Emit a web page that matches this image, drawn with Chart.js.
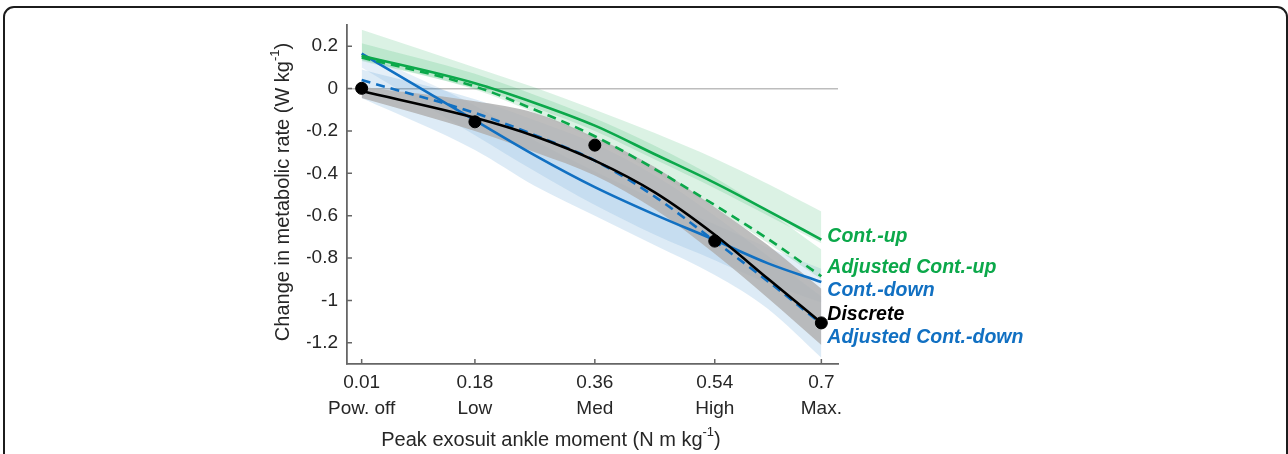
<!DOCTYPE html>
<html>
<head>
<meta charset="utf-8">
<script src="https://cdn.jsdelivr.net/npm/chart.js@4.4.1/dist/chart.umd.min.js"></script>
<style>
  html, body { margin: 0; padding: 0; background: #fff; }
  #wrap { position: relative; width: 1288px; height: 454px; overflow: hidden; }
  #frame { position: absolute; left: 3px; top: 6px; width: 1285px; height: 520px; border: 2px solid #1c1c1c; border-radius: 11px; box-sizing: border-box; pointer-events: none; }
  canvas { position: absolute; left: 0; top: 0; }
</style>
</head>
<body>
<div id="wrap">
  <canvas id="chart" width="1288" height="454"></canvas>
  <div id="frame"></div>
</div>
<script>
// tick values and category names on the x axis
const xTickValues = [0.01, 0.18, 0.36, 0.54, 0.7];
const xTickNames = ['Pow. off', 'Low', 'Med', 'High', 'Max.'];
const yTickValues = [0.2, 0, -0.2, -0.4, -0.6, -0.8, -1, -1.2];

// peak exosuit ankle moment where the fitted curves were read
const moment = [0.01, 0.18, 0.27, 0.36, 0.45, 0.54, 0.62, 0.7];

// fitted curves (W/kg)
const contUp      = [0.155, 0.025, -0.068, -0.175, -0.31, -0.445, -0.577, -0.713];
const adjContUp   = [0.147, 0.01, -0.10, -0.225, -0.38, -0.55, -0.71, -0.886];
const contDown    = [0.165, -0.15, -0.315, -0.465, -0.595, -0.715, -0.825, -0.913];
const adjContDown = [0.04, -0.115, -0.22, -0.34, -0.51, -0.72, -0.91, -1.11];
const discreteFit = [-0.012, -0.138, -0.225, -0.34, -0.49, -0.69, -0.898, -1.105];

// confidence bands (upper / lower)
const contUpHi      = [0.277, 0.10, 0.005, -0.10, -0.21, -0.33, -0.45, -0.58];
const contUpLo      = [0.135, 0.0, -0.09, -0.20, -0.335, -0.47, -0.60, -0.73];
const adjContUpHi   = [0.214, 0.07, -0.03, -0.14, -0.27, -0.42, -0.58, -0.76];
const adjContUpLo   = [0.13, -0.005, -0.115, -0.24, -0.395, -0.565, -0.73, -0.90];
const contDownHi    = [0.17, -0.08, -0.245, -0.39, -0.52, -0.64, -0.75, -0.85];
const contDownLo    = [0.10, -0.22, -0.39, -0.55, -0.69, -0.81, -0.92, -1.01];
const adjContDownHi = [0.09, -0.05, -0.15, -0.26, -0.41, -0.60, -0.79, -0.98];
const adjContDownLo = [-0.045, -0.29, -0.46, -0.60, -0.74, -0.88, -1.04, -1.27];
const discreteHi    = [0.008, -0.06, -0.115, -0.23, -0.37, -0.56, -0.74, -0.945];
const discreteLo    = [-0.045, -0.20, -0.30, -0.41, -0.57, -0.78, -0.99, -1.21];

// measured discrete conditions
const discreteMoment = [0.01, 0.18, 0.36, 0.54, 0.7];
const discreteMeans  = [0.001, -0.157, -0.267, -0.72, -1.106];

// text labels at the right end of the curves
const seriesLabels = ['Cont.-up', 'Adjusted Cont.-up', 'Cont.-down', 'Discrete', 'Adjusted Cont.-down'];
const seriesLabelAt = [-0.70, -0.843, -0.956, -1.068, -1.177];

const GREEN = '#0ba84a';
const BLUE = '#1170c2';
const AXIS = '#666666';
const TEXT = '#262626';
const FONT = '"Liberation Sans", Arial, Helvetica, sans-serif';
const labelColors = [GREEN, GREEN, BLUE, '#000', BLUE];

const pts = ys => moment.map((x, i) => ({ x, y: ys[i] }));

function band(hi, lo, color, order) {
  return [
    { data: pts(hi), fill: '+1', backgroundColor: color, borderWidth: 0, pointRadius: 0, order },
    { data: pts(lo), fill: false, borderWidth: 0, pointRadius: 0, order },
  ];
}

function curve(ys, color, dash, order) {
  return { data: pts(ys), borderColor: color, borderWidth: 2.6, borderDash: dash, pointRadius: 0, fill: false, order };
}

function supText(ctx, main, sup, tail, font, supFont) {
  ctx.font = font;
  const w1 = ctx.measureText(main).width;
  const w3 = ctx.measureText(tail).width;
  ctx.font = supFont;
  const w2 = ctx.measureText(sup).width;
  let x = -(w1 + w2 + w3) / 2;
  ctx.font = font;
  ctx.fillText(main, x, 0);
  x += w1;
  ctx.font = supFont;
  ctx.fillText(sup, x, -8);
  x += w2;
  ctx.font = font;
  ctx.fillText(tail, x, 0);
}

const decorations = {
  id: 'decorations',
  afterDraw(chart) {
    const { ctx, chartArea, scales: { x, y } } = chart;
    ctx.save();
    // inward tick marks
    ctx.strokeStyle = AXIS;
    ctx.lineWidth = 1.5;
    ctx.beginPath();
    xTickValues.forEach(v => {
      const px = x.getPixelForValue(v);
      ctx.moveTo(px, chartArea.bottom);
      ctx.lineTo(px, chartArea.bottom - 5);
    });
    yTickValues.forEach(v => {
      const py = y.getPixelForValue(v);
      ctx.moveTo(chartArea.left, py);
      ctx.lineTo(chartArea.left + 5, py);
    });
    ctx.stroke();

    // curve labels
    ctx.font = 'italic bold 19.5px ' + FONT;
    ctx.textBaseline = 'middle';
    ctx.textAlign = 'left';
    const lx = x.getPixelForValue(0.7) + 6;
    seriesLabels.forEach((t, i) => {
      ctx.fillStyle = labelColors[i];
      ctx.fillText(t, lx, y.getPixelForValue(seriesLabelAt[i]));
    });

    // axis titles
    ctx.fillStyle = TEXT;
    ctx.textBaseline = 'middle';
    ctx.save();
    ctx.translate(551, 440);
    supText(ctx, 'Peak exosuit ankle moment (N m kg', '-1', ')', '20px ' + FONT, '13px ' + FONT);
    ctx.restore();
    ctx.save();
    ctx.translate(283, 192);
    ctx.rotate(-Math.PI / 2);
    supText(ctx, 'Change in metabolic rate (W kg', '-1', ')', '20px ' + FONT, '13px ' + FONT);
    ctx.restore();
    ctx.restore();
  }
};

new Chart(document.getElementById('chart'), {
  type: 'line',
  data: {
    datasets: [
      ...band(contDownHi, contDownLo, 'rgba(17,112,194,0.11)', 20),
      ...band(adjContDownHi, adjContDownLo, 'rgba(17,112,194,0.14)', 19),
      ...band(contUpHi, contUpLo, 'rgba(11,168,74,0.15)', 18),
      ...band(adjContUpHi, adjContUpLo, 'rgba(11,168,74,0.15)', 17),
      ...band(discreteHi, discreteLo, 'rgba(178,178,178,0.85)', 16),
      curve(contDown, BLUE, [], 6),
      curve(adjContDown, BLUE, [9, 6], 5),
      curve(contUp, GREEN, [], 4),
      curve(adjContUp, GREEN, [9, 6], 3),
      curve(discreteFit, '#000', [], 2),
      {
        type: 'scatter',
        data: discreteMoment.map((x, i) => ({ x, y: discreteMeans[i] })),
        pointRadius: 6,
        pointBackgroundColor: '#000',
        pointBorderColor: '#000',
        order: 0
      }
    ]
  },
  options: {
    responsive: false,
    animation: false,
    devicePixelRatio: 1,
    layout: { padding: { left: 307, right: 450, top: 25, bottom: 0 } },
    elements: { line: { cubicInterpolationMode: 'monotone' } },
    plugins: { legend: { display: false }, tooltip: { enabled: false } },
    scales: {
      x: {
        type: 'linear',
        min: -0.012,
        max: 0.725,
        afterBuildTicks: s => { s.ticks = xTickValues.map(v => ({ value: v })); },
        afterFit: s => { s.height = 90; },
        grid: { display: false, drawTicks: false },
        border: { display: true, color: AXIS, width: 1.8 },
        ticks: {
          padding: 6,
          color: TEXT,
          maxRotation: 0,
          autoSkip: false,
          font: { size: 19, family: FONT, lineHeight: 1.37 },
          callback: (v, i) => [String(v), xTickNames[i]]
        }
      },
      y: {
        type: 'linear',
        min: -1.3,
        max: 0.3,
        afterBuildTicks: s => { s.ticks = yTickValues.map(v => ({ value: v })); },
        afterFit: s => { s.width = 40; },
        grid: {
          drawTicks: false,
          lineWidth: 1.5,
          color: c => (c.tick && c.tick.value === 0 ? '#bdbdbd' : 'rgba(0,0,0,0)')
        },
        border: { display: true, color: AXIS, width: 1.8 },
        ticks: {
          padding: 9,
          color: TEXT,
          font: { size: 19, family: FONT },
          callback: v => String(Math.round(v * 10) / 10)
        }
      }
    }
  },
  plugins: [decorations]
});
</script>
</body>
</html>
